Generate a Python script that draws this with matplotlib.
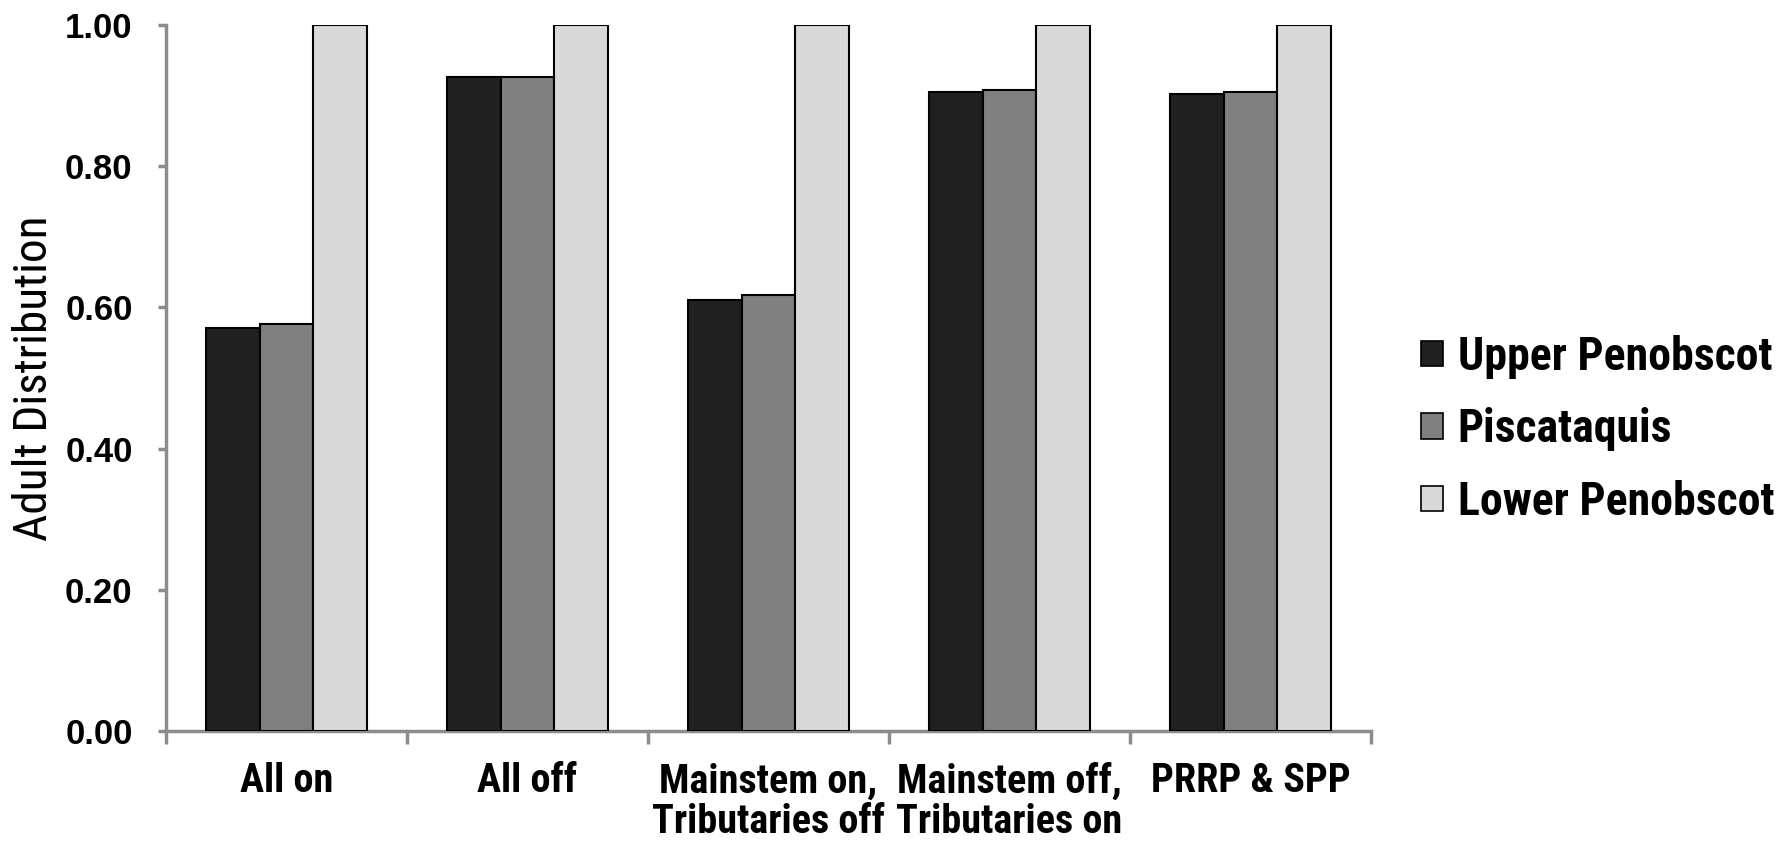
import matplotlib
matplotlib.use("Agg")
import matplotlib.pyplot as plt
import numpy as np
from matplotlib.patches import Patch

categories = ["All on", "All off", "Mainstem on,\nTributaries off",
              "Mainstem off,\nTributaries on", "PRRP & SPP"]
series_names = ["Upper Penobscot", "Piscataquis", "Lower Penobscot"]
upper = [0.571, 0.927, 0.611, 0.905, 0.902]
pisc = [0.577, 0.926, 0.617, 0.908, 0.905]
lower = [1.00, 1.00, 1.00, 1.00, 1.00]
yticks = [0.0, 0.2, 0.4, 0.6, 0.8, 1.0]
colors = ["#202020", "#808080", "#d9d9d9"]

NARROW = ["Roboto Condensed", "PT Sans Narrow", "DejaVu Sans"]
REG = ["Liberation Sans", "DejaVu Sans"]
axis_gray = "#8c8c8c"

fig = plt.figure(figsize=(17.92, 8.42), dpi=100)
ax = fig.add_axes([0.0926, 0.1318, 0.6725, 0.8385])

x = np.arange(len(categories))
w = 1 / 4.5
for i, vals in enumerate([upper, pisc, lower]):
    ax.bar(x + (i - 1) * w, vals, width=w, color=colors[i], edgecolor="black",
           linewidth=1.5, zorder=3)

ax.set_xlim(-0.5, len(categories) - 0.5)
ax.set_ylim(0, 1.0)
for s in ["top", "right"]:
    ax.spines[s].set_visible(False)
for s in ["left", "bottom"]:
    ax.spines[s].set_color(axis_gray)
    ax.spines[s].set_linewidth(2.5)

ax.set_yticks(yticks)
ax.set_yticklabels([f"{v:.2f}" for v in yticks], fontweight="bold", fontsize=25,
                   family=REG)
ax.tick_params(axis="y", direction="out", length=6, width=2.5, color=axis_gray,
               pad=18)

ax.set_xticks(np.arange(-0.5, len(categories), 1.0))
ax.set_xticklabels([])
ax.tick_params(axis="x", which="major", direction="out", length=9, width=2.5,
               color=axis_gray)
ax.set_xticks(x, minor=True)
ax.set_xticklabels(categories, minor=True, fontweight="bold", fontsize=29,
                   family=NARROW, linespacing=1.08)
ax.tick_params(axis="x", which="minor", length=0, pad=22.5)

ax.set_ylabel("Adult Distribution", fontsize=34, family=NARROW)
ax.yaxis.set_label_coords(-0.091, 0.5)

handles = [Patch(facecolor=c, edgecolor="black", linewidth=1.2) for c in colors]
fig.legend(handles, series_names, loc="center left",
           bbox_to_anchor=(0.793, 0.49), frameon=False,
           prop={"family": NARROW, "weight": "bold", "size": 33},
           handlelength=0.48, handleheight=0.48, handletextpad=0.32,
           labelspacing=0.62, borderpad=0, borderaxespad=0)

fig.savefig("out.png", dpi=100)
